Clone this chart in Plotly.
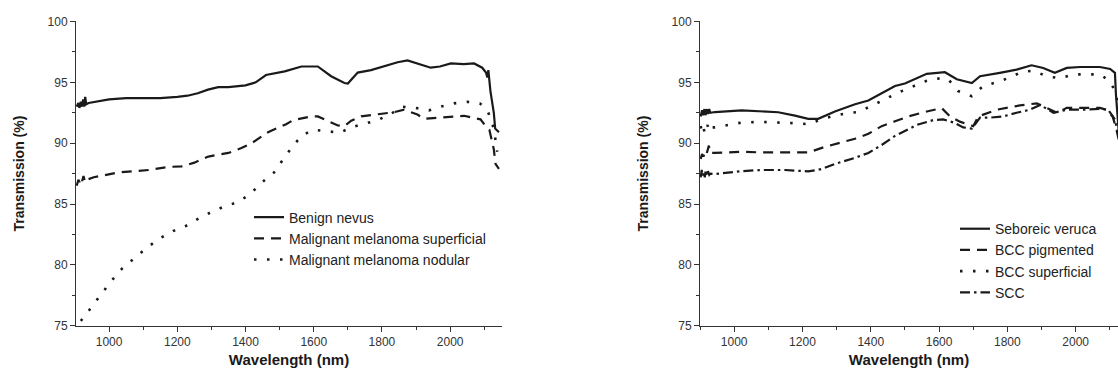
import plotly.graph_objects as go

# ---------------- Left panel data ----------------
wl_benign = [905, 910, 913, 917, 920, 924, 927, 930, 933, 940, 1000, 1050, 1100, 1150, 1200, 1230,
             1260, 1290, 1320, 1350, 1400, 1430, 1460, 1515, 1564, 1612, 1651, 1690, 1700, 1729,
             1768, 1807, 1846, 1875, 1900, 1943, 1970, 2002, 2040, 2070, 2094, 2105, 2109, 2112,
             2118, 2128, 2132, 2143]
benign = [93.0, 93.3, 92.9, 93.4, 93.0, 93.6, 93.0, 93.8, 93.2, 93.3, 93.6, 93.7, 93.7, 93.7, 93.8, 93.9,
          94.1, 94.4, 94.6, 94.6, 94.75, 95.0, 95.6, 95.9, 96.3, 96.3, 95.5, 94.94, 94.9, 95.8,
          96.0, 96.3, 96.65, 96.8, 96.6, 96.2, 96.3, 96.55, 96.5, 96.55, 96.2, 95.8, 95.4, 96.0,
          94.3, 92.5, 91.2, 90.9]

wl_superficial = [905, 910, 913, 917, 921, 925, 930, 935, 955, 1028, 1116, 1174, 1213, 1250, 1291, 1350,
                  1388, 1418, 1466, 1519, 1540, 1593, 1612, 1651, 1671, 1690, 1710, 1739, 1788, 1836,
                  1865, 1904, 1924, 1972, 2041, 2089, 2104, 2115, 2124, 2128, 2133, 2143]
superficial = [86.5, 87.0, 86.8, 87.2, 86.9, 87.3, 86.8, 87.0, 87.2, 87.6, 87.8, 88.05, 88.1, 88.4, 88.9, 89.2,
               89.6, 90.0, 90.9, 91.56, 91.9, 92.2, 92.2, 91.7, 91.45, 91.4, 91.85, 92.2, 92.35, 92.55,
               92.75, 92.35, 92.0, 92.1, 92.25, 91.96, 91.4, 91.1, 90.1, 89.5, 88.3, 87.9]

wl_nodular = [917, 926, 950, 980, 1007, 1038, 1077, 1113, 1150, 1189, 1225, 1262, 1301, 1338, 1377,
              1413, 1449, 1484, 1510, 1536, 1564, 1598, 1637, 1676, 1710, 1749, 1788, 1826, 1860,
              1899, 1938, 1972, 2011, 2050, 2087, 2109, 2118, 2128, 2138]
nodular = [75.4, 75.7, 76.6, 77.67, 78.7, 79.7, 80.6, 81.46, 82.2, 82.8, 83.2, 83.8, 84.36, 84.8, 85.15,
           85.8, 86.8, 87.6, 88.66, 89.66, 90.6, 91.1, 91.0, 90.85, 91.3, 91.6, 91.9, 92.4, 93.0,
           92.9, 92.7, 93.0, 93.27, 93.4, 93.27, 92.75, 91.96, 91.2, 89.3]

# ---------------- Right panel data ----------------
wl_seboreic = [902, 906, 909, 913, 916, 920, 923, 927, 930, 944, 1022, 1129, 1178, 1217, 1246, 1295,
               1354, 1393, 1432, 1471, 1500, 1529, 1564, 1617, 1652, 1696, 1720, 1778, 1827, 1871,
               1905, 1939, 1974, 2013, 2071, 2101, 2115, 2118, 2122, 2126]
seboreic = [92.2, 92.7, 92.3, 92.8, 92.3, 92.8, 92.4, 92.8, 92.5, 92.56, 92.7, 92.54, 92.27, 92.0, 92.0, 92.6,
            93.2, 93.5, 94.1, 94.7, 94.9, 95.25, 95.7, 95.83, 95.25, 94.94, 95.5, 95.78, 96.04, 96.4,
            96.18, 95.78, 96.18, 96.26, 96.26, 96.1, 95.78, 94.0, 92.5, 91.0]

wl_bcc_pig = [902, 906, 910, 914, 918, 922, 926, 930, 944, 1022, 1080, 1149, 1217, 1266, 1315, 1354,
              1393, 1432, 1471, 1510, 1564, 1608, 1632, 1661, 1700, 1715, 1769, 1837, 1886, 1905,
              1945, 1974, 2022, 2071, 2090, 2108, 2118, 2126]
bcc_pig = [88.7, 89.1, 88.9, 89.2, 89.0, 89.5, 89.8, 89.2, 89.2, 89.3, 89.24, 89.24, 89.24, 89.7, 90.1, 90.37,
           90.77, 91.4, 91.8, 92.2, 92.6, 92.88, 92.2, 91.77, 91.4, 92.2, 92.75, 93.1, 93.27, 93.0,
           92.5, 92.9, 92.9, 92.9, 92.75, 92.2, 91.3, 90.3]

wl_bcc_sup = [902, 906, 910, 914, 918, 922, 926, 930, 944, 1022, 1080, 1139, 1178, 1217, 1256, 1295,
              1334, 1364, 1403, 1442, 1476, 1515, 1549, 1588, 1627, 1656, 1696, 1730, 1769, 1808,
              1842, 1876, 1915, 1954, 1993, 2032, 2071, 2100, 2115, 2122]
bcc_sup = [91.4, 90.9, 91.3, 90.8, 91.1, 91.5, 91.0, 91.3, 91.3, 91.7, 91.75, 91.7, 91.64, 91.56, 91.96, 92.27,
           92.48, 92.56, 93.06, 93.6, 94.12, 94.54, 95.0, 95.33, 95.25, 94.28, 93.86, 94.72, 95.0, 95.4,
           95.86, 95.96, 95.5, 95.33, 95.65, 95.65, 95.65, 95.1, 94.3, 93.5]

wl_scc = [902, 905, 908, 911, 914, 917, 920, 923, 927, 930, 944, 1022, 1080, 1149, 1217, 1256, 1295,
          1354, 1393, 1432, 1471, 1510, 1535, 1583, 1612, 1642, 1671, 1696, 1720, 1749, 1788, 1827,
          1866, 1896, 1935, 1974, 2022, 2071, 2095, 2115, 2121, 2126]
scc = [87.2, 87.8, 87.3, 87.7, 87.2, 87.8, 87.3, 87.7, 87.4, 87.5, 87.47, 87.7, 87.8, 87.8, 87.68, 87.87, 88.3,
       88.8, 89.2, 89.85, 90.6, 91.16, 91.5, 91.9, 91.96, 91.7, 91.3, 91.2, 92.1, 92.1, 92.2, 92.5,
       92.75, 93.14, 92.5, 92.75, 92.75, 92.82, 92.75, 91.96, 91.2, 90.5]

y_ticks = [75, 80, 85, 90, 95, 100]
x_ticks = [1000, 1200, 1400, 1600, 1800, 2000]

W, H = 1118, 380
FONT = "Liberation Sans, Arial, sans-serif"
INK = "#1a1a1a"

DASH = "10px,7px"
DOT = "2.5px,10.5px"
DASHDOT = "10px,4px,2.5px,4px"

fig = go.Figure()

def add(x, y, name, dash, xa, ya, legend, width=2.2):
    fig.add_trace(go.Scatter(x=x, y=y, name=name, mode="lines",
                             line=dict(color=INK, width=width, dash=dash),
                             xaxis=xa, yaxis=ya, legend=legend))

add(wl_benign, benign, "Benign nevus", "solid", "x", "y", "legend")
add(wl_superficial, superficial, "Malignant melanoma superficial", DASH, "x", "y", "legend")
add(wl_nodular, nodular, "Malignant melanoma nodular", DOT, "x", "y", "legend", 2.6)

add(wl_seboreic, seboreic, "Seboreic veruca", "solid", "x2", "y2", "legend2")
add(wl_bcc_pig, bcc_pig, "BCC pigmented", DASH, "x2", "y2", "legend2")
add(wl_bcc_sup, bcc_sup, "BCC superficial", DOT, "x2", "y2", "legend2", 2.6)
add(wl_scc, scc, "SCC", DASHDOT, "x2", "y2", "legend2")

y_bottom = (H - 331) / H
y_top = (H - 15) / H

def xaxis(domain, rng):
    return dict(domain=domain, range=rng, tickvals=x_ticks, ticks="outside", ticklen=5,
                tickwidth=1, tickcolor="#333", showline=True, linecolor="#333", linewidth=1,
                showgrid=False, zeroline=False,
                minor=dict(dtick=100, tick0=900, ticks="outside", ticklen=3, tickcolor="#333", showgrid=False),
                tickfont=dict(family=FONT, size=12, color="#333"),
                title=dict(text="<b>Wavelength (nm)</b>", font=dict(family=FONT, size=15, color=INK), standoff=6))

def yaxis(domain, anchor):
    return dict(domain=domain, range=[75, 100], tickvals=y_ticks, ticks="outside", ticklen=5,
                tickwidth=1, tickcolor="#333", showline=True, linecolor="#333", linewidth=1,
                showgrid=False, zeroline=False, anchor=anchor,
                minor=dict(dtick=2.5, tick0=75, ticks="outside", ticklen=3, tickcolor="#333", showgrid=False),
                tickfont=dict(family=FONT, size=12, color="#333"),
                title=dict(text="<b>Transmission (%)</b>", font=dict(family=FONT, size=14, color=INK), standoff=19))

fig.update_layout(
    width=W, height=H,
    margin=dict(l=0, r=0, t=0, b=0),
    paper_bgcolor="white", plot_bgcolor="white",
    xaxis=dict(**xaxis([76 / W, 502 / W], [903, 2152]), anchor="y"),
    yaxis=yaxis([y_bottom, y_top], "x"),
    xaxis2=dict(**xaxis([700 / W, 1.0], [900, 2124]), anchor="y2"),
    yaxis2=yaxis([y_bottom, y_top], "x2"),
    legend=dict(x=249 / W, y=(H - 202) / H, xanchor="left", yanchor="top",
                bgcolor="rgba(0,0,0,0)", borderwidth=0, tracegroupgap=0,
                font=dict(family=FONT, size=14, color="#222")),
    legend2=dict(x=955 / W, y=(H - 214) / H, xanchor="left", yanchor="top",
                 bgcolor="rgba(0,0,0,0)", borderwidth=0, tracegroupgap=0,
                 font=dict(family=FONT, size=14, color="#222")),
    showlegend=True,
)

fig.write_html("out.html")
